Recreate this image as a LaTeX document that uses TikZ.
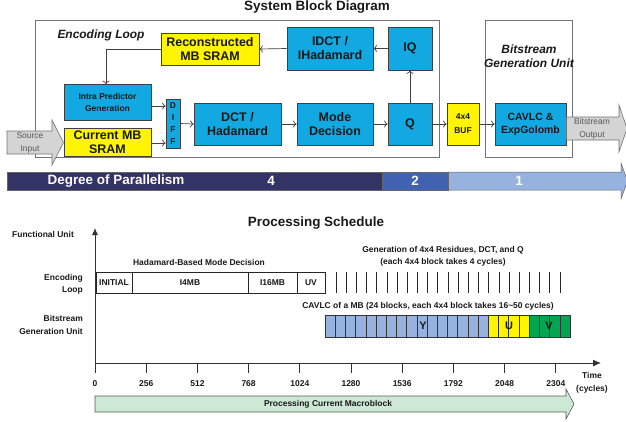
\documentclass[tikz,border=0pt]{standalone}
\usepackage{fontspec}
\setmainfont{Liberation Sans}
\usetikzlibrary{arrows.meta}
\definecolor{blk}{RGB}{18,168,226}
\definecolor{ylw}{RGB}{255,245,0}
\definecolor{navy}{RGB}{51,51,102}
\definecolor{midb}{RGB}{64,98,176}
\definecolor{ltb}{RGB}{149,179,222}
\definecolor{grn}{RGB}{0,166,81}
\definecolor{pgrn}{RGB}{205,232,213}
\definecolor{arrg}{RGB}{212,212,212}
\begin{document}
\begin{tikzpicture}[x=1bp,y=-1bp,
  big/.style={font=\bfseries\fontsize{13.5}{15}\selectfont},
  blab/.style={font=\bfseries\fontsize{12.5}{14}\selectfont},
  mlab/.style={font=\bfseries\fontsize{10.5}{13}\selectfont},
  sm/.style={font=\bfseries\fontsize{8.5}{12.5}\selectfont},
  smr/.style={font=\fontsize{8.5}{13}\selectfont},
  ital/.style={font=\bfseries\itshape\fontsize{12}{14}\selectfont},
  box/.style={draw=black!75, line width=0.7pt, inner sep=0pt, align=center, text=black!90},
  bluebox/.style={box, fill=blk},
  ylwbox/.style={box, fill=ylw},
  conn/.style={draw=black!75, line width=0.7pt, -{To[length=3.5bp,width=7bp]}},
  frame/.style={draw=black!55, line width=0.9pt},
  garrow/.style={fill=arrg, draw=black!55, line width=0.6pt},
  cell/.style={draw=black!80, line width=0.6pt},
  axis/.style={draw=black!80, line width=0.9pt},
  txt/.style={inner sep=0pt, align=center, text=black!90}
]
\useasboundingbox (0,0) rectangle (626,421);

% ---------- System block diagram ----------
\node[big, txt] (title1) at (317,7) {System Block Diagram};

\draw[frame] (35,20) rectangle (439,157);
\draw[frame] (485,20) rectangle (572,157);
\node[ital, txt] (elabel) at (101,35) {Encoding Loop};
\node[ital, txt, font=\bfseries\itshape\fontsize{12}{14}\selectfont] (blabel) at (529,56) {Bitstream\\Generation Unit};

\node[ylwbox, blab, minimum width=98bp, minimum height=32bp] (recon) at (210,49) {Reconstructed\\MB SRAM};
\node[bluebox, blab, minimum width=86bp, minimum height=43bp] (idct) at (330,48.5) {IDCT /\\IHadamard};
\node[bluebox, blab, minimum width=44bp, minimum height=43bp] (iq) at (410,48.5) {IQ};
\node[bluebox, sm, minimum width=87bp, minimum height=36bp] (intra) at (107.5,102.5) {Intra Predictor\\Generation};
\node[ylwbox, blab, minimum width=87bp, minimum height=28bp] (cur) at (107.5,142) {Current MB\\SRAM};
\node[bluebox, font=\bfseries\fontsize{8.5}{12}\selectfont, minimum width=14bp, minimum height=49bp] (diff) at (173,123.5) {D\\I\\F\\F};
\node[bluebox, blab, minimum width=87bp, minimum height=42bp] (dct) at (237.5,124) {DCT /\\Hadamard};
\node[bluebox, blab, minimum width=76bp, minimum height=42bp] (mode) at (335,124) {Mode\\Decision};
\node[bluebox, blab, minimum width=44bp, minimum height=42bp] (q) at (410,124) {Q};
\node[ylwbox, font=\bfseries\fontsize{8.5}{14}\selectfont, minimum width=32bp, minimum height=42bp] (buf) at (463,124) {4x4\\BUF};
\node[bluebox, mlab, minimum width=71bp, minimum height=42bp] (cavlc) at (530.5,124) {CAVLC \&\\ExpGolomb};

\draw[conn] (idct.west) -- (recon.east);
\draw[conn] (iq.west) -- (idct.east);
\draw[conn] (q.north) -- (iq.south);
\draw[conn] (recon.west) -| ([xshift=-1.5bp]intra.north);
\draw[conn] ([yshift=-3.5bp]intra.east) -- ([yshift=-3.5bp]intra.east -| diff.west);
\draw[conn] ([yshift=-1bp]cur.east) -- ([yshift=-1bp]cur.east -| diff.west);
\draw[conn] (diff.east) -- (dct.west);
\draw[conn] (dct.east) -- (mode.west);
\draw[conn] (mode.east) -- (q.west);
\draw[conn] (q.east) -- (buf.west);
\draw[conn] (buf.east) -- (cavlc.west);

% gray I/O arrows
\draw[garrow] (7,131) -- (52,131) -- (52,120) -- (63.5,142.5) -- (52,165) -- (52,154) -- (7,154) -- cycle;
\node[smr, txt, text=black!65] (srcin) at (30,142.5) {Source\\Input};
\draw[garrow] (566.5,117) -- (619,117) -- (619,105) -- (627,128.5) -- (619,152) -- (619,140) -- (566.5,140) -- cycle;
\node[smr, txt, text=black!65] (bsout) at (592,128.5) {Bitstream\\Output};

% ---------- Degree of parallelism ----------
\fill[navy] (7,172) rectangle (382,190);
\fill[midb] (382,172) rectangle (448,190);
\draw[fill=ltb, draw=black!60, line width=0.5pt] (448,172) -- (621,172) -- (621,163) -- (627.5,181) -- (621,199) -- (621,190) -- (448,190) -- cycle;
\draw[black!60, line width=0.5pt] (7,172) rectangle (448,190);
\draw[black!60, line width=0.5pt] (382,172) -- (382,190);
\node[big, txt, text=white] (dop) at (116,181) {Degree of Parallelism};
\node[big, txt, text=white] (p4) at (271,181) {4};
\node[big, txt, text=white] (p2) at (415,181) {2};
\node[big, txt, text=white] (p1) at (519,181) {1};

% ---------- Processing schedule ----------
\node[big, txt] (title2) at (316,223) {Processing Schedule};

\draw[axis, -{Latex[length=7bp,width=6bp]}] (95,373) -- (95,228);
\draw[axis, -{Latex[length=8bp,width=7bp]}] (95,363) -- (601,363);
\foreach \c in {256,512,...,2304} \draw[axis] ({95+\c*0.2},363) -- ++(0,10);
\foreach \c in {0,256,...,2304} \node[sm, txt] at ({95+\c*0.2},384) {\c};
\node[sm, txt] (timel) at (592,383) {Time\\(cycles)};

\node[sm, txt, anchor=west] (fu) at (12,234) {Functional Unit};
\node[sm, txt, anchor=east, align=right, font=\bfseries\fontsize{8.5}{12}\selectfont] (elab) at (83,284) {Encoding\\Loop};
\node[sm, txt, anchor=east, align=right, font=\bfseries\fontsize{8.5}{13}\selectfont] (glab) at (83,324.5) {Bitstream\\Generation Unit};

\node[sm, txt] (hbmd) at (199,262) {Hadamard-Based Mode Decision};
\draw[cell, draw=black!85] (96,272) rectangle (325,293);
\foreach \xx in {132,248,297} \draw[cell, draw=black!85] (\xx,272) -- (\xx,293);
\node[sm, txt] (ini) at (114,283) {INITIAL};
\node[sm, txt] (i4) at (190,283) {I4MB};
\node[sm, txt] (i16) at (272.5,283) {I16MB};
\node[sm, txt] (uv) at (311,283) {UV};

\node[sm, txt] (gen) at (443,256.5) {Generation of 4x4 Residues, DCT, and Q\\(each 4x4 block takes 4 cycles)};
\foreach \i in {0,...,22} \draw[black!85, line width=0.8pt] ({336+\i*10.1818},272) -- ++(0,21);

\node[sm, txt] (cav) at (428,306) {CAVLC of a MB (24 blocks, each 4x4 block takes 16\textasciitilde50 cycles)};
\foreach \i in {0,...,15} \draw[cell, fill=ltb] ({325+\i*10.2083},315) rectangle ++(10.2083,22);
\foreach \i in {16,...,19} \draw[cell, fill=ylw] ({325+\i*10.2083},315) rectangle ++(10.2083,22);
\foreach \i in {20,...,23} \draw[cell, fill=grn] ({325+\i*10.2083},315) rectangle ++(10.2083,22);
\node[blab, txt, font=\bfseries\fontsize{11}{12}\selectfont] (ly) at (423,326) {Y};
\node[blab, txt, font=\bfseries\fontsize{11}{12}\selectfont] (lu) at (509,326) {U};
\node[blab, txt, font=\bfseries\fontsize{11}{12}\selectfont] (lv) at (549,326) {V};

\draw[fill=pgrn, draw=black!65, line width=0.6pt] (95,396) -- (566,396) -- (566,389) -- (574,404) -- (566,419) -- (566,412) -- (95,412) -- cycle;
\node[sm, txt] (pcm) at (328,404) {Processing Current Macroblock};
\end{tikzpicture}
\end{document}
